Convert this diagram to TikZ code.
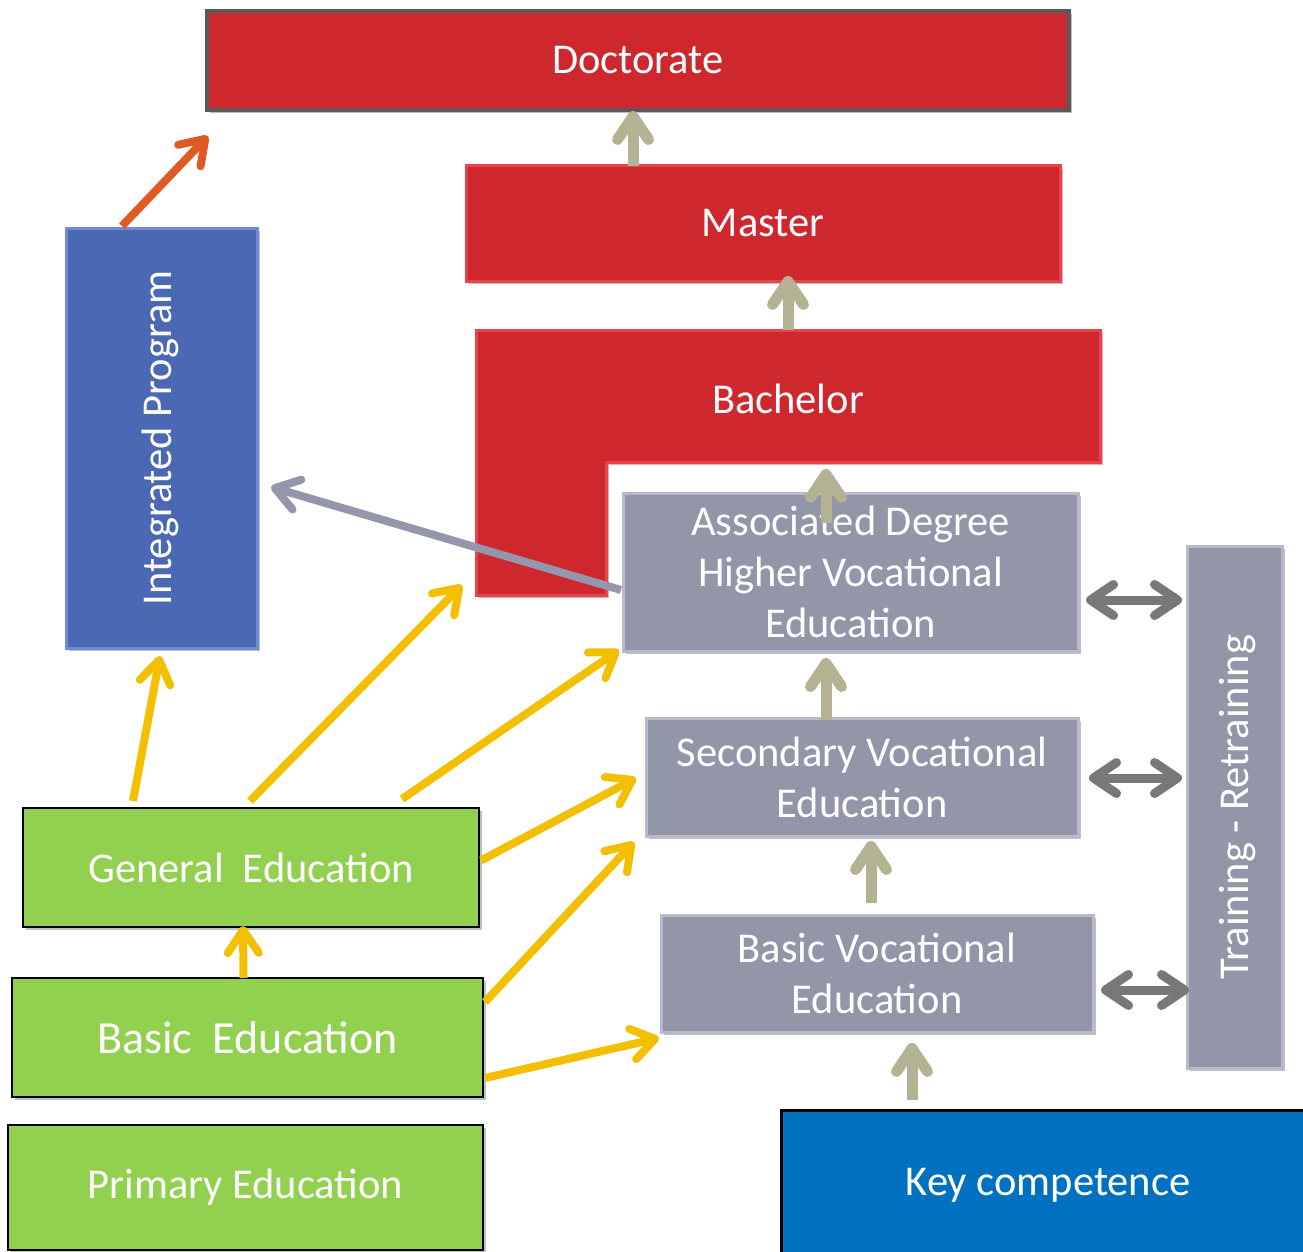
\documentclass[tikz,border=0pt]{standalone}
\usepackage{fontspec}
\setmainfont{Carlito}
\usetikzlibrary{arrows.meta,shadows}
\definecolor{redc}{HTML}{CF272E}
\definecolor{redlight}{HTML}{E8434A}
\definecolor{docborder}{HTML}{595959}
\definecolor{intblue}{HTML}{4A68B3}
\definecolor{intlight}{HTML}{6F8BD6}
\definecolor{grayc}{HTML}{9395A8}
\definecolor{graylight}{HTML}{B8BACB}
\definecolor{greenc}{HTML}{92D050}
\definecolor{keyblue}{HTML}{0070C0}
\definecolor{tanc}{HTML}{B3B394}
\definecolor{dgray}{HTML}{787878}
\definecolor{orangec}{HTML}{E05B24}
\definecolor{yellowc}{HTML}{F2C000}
\definecolor{bluegray}{HTML}{9497AB}
\tikzset{
  lab/.style={text=white, align=center, font=\fontsize{42.5}{51}\selectfont},
  box/.style={rectangle, inner sep=0pt, outer sep=0pt, lab,
    drop shadow={shadow xshift=3pt, shadow yshift=-3pt, opacity=0.25, fill=black}},
  redbox/.style={box, fill=redc, draw=redlight, line width=3pt},
  graybox/.style={box, fill=grayc, draw=graylight, line width=3pt},
  greenbox/.style={box, fill=greenc, draw=black, line width=2.2pt},
  headtip/.tip={Straight Barb[round,length=23pt,width=31pt]},
  tanarrow/.style={draw=tanc, line width=11pt, -headtip},
  yarrow/.style={draw=yellowc, line width=8pt, -headtip},
  dblarrow/.style={draw=dgray, line width=9pt, headtip-headtip},
  oarrow/.style={draw=orangec, line width=8pt, -headtip},
  bgarrow/.style={draw=bluegray, line width=8pt, -headtip},
}
\begin{document}
\begin{tikzpicture}[x=1pt,y=-1pt]
\useasboundingbox (0,0) rectangle (1303,1252);
% boxes
\node[redbox, draw=docborder, line width=4.5pt, minimum width=862pt, minimum height=99pt] (doc) at (638,60.5) {Doctorate};
\node[redbox, minimum width=594pt, minimum height=115pt] (master) at (763,223.5) {Master};
\fill[black, opacity=0.25] (479,333) -- (1103,333) -- (1103,465) -- (609,465) -- (609,598) -- (479,598) -- cycle;
\draw[fill=redc, draw=redlight, line width=3pt] (476,330) -- (1100,330) -- (1100,462) -- (606,462) -- (606,595) -- (476,595) -- cycle;
\node[lab] (bach) at (788,399) {Bachelor};
\coordinate (bachT) at (788,330);
\coordinate (bachIn) at (826,462);
\coordinate (bachBL) at (476,595);
\node[box, fill=intblue, draw=intlight, line width=3pt, minimum width=191pt, minimum height=420pt] (int) at (161.5,438) {};
\node[lab, rotate=90] (intlab) at ([xshift=-1pt]int.center) {Integrated Program};
\node[graybox, minimum width=455pt, minimum height=158pt] (assoc) at (850.5,572) {Associated Degree\\Higher Vocational\\Education};
\node[graybox, minimum width=432pt, minimum height=118pt] (sec) at (862,777) {Secondary Vocational\\Education};
\node[graybox, minimum width=432pt, minimum height=117pt] (bvoc) at (877,973.5) {Basic Vocational\\Education};
\node[graybox, minimum width=95pt, minimum height=522pt] (train) at (1234.5,807) {};
\node[lab, rotate=90] (trainlab) at ([xshift=3pt]train.center) {Training - Retraining};
\node[greenbox, minimum width=456pt, minimum height=119pt] (gen) at (251,867.5) {General\ \ Education};
\node[greenbox, minimum width=471pt, minimum height=119pt, font=\fontsize{46}{52}\selectfont] (based) at (247.5,1037.5) {Basic\ \ Education};
\node[greenbox, minimum width=475pt, minimum height=125pt] (prim) at (245.5,1187.5) {Primary Education};
\node[box, fill=keyblue, draw=black, line width=3pt, minimum width=525pt, minimum height=146pt] (key) at (1043.5,1183) {};
\node[lab] (keylab) at (1048,1185) {Key competence};
% arrows
\draw[oarrow] ([xshift=56pt,yshift=2pt]int.north west) -- ([xshift=1pt,yshift=-26pt]doc.south west);
\draw[bgarrow] ([xshift=-2pt,yshift=-18pt]assoc.west) -- ([xshift=14pt,yshift=-49pt]int.east);
\draw[tanarrow] ([xshift=-130pt]master.north) -- ([xshift=-5pt,yshift=-1pt]doc.south);
\draw[tanarrow] (bachT) -- ([xshift=25pt,yshift=5pt]master.south);
\draw[tanarrow] ([xshift=-24.5pt,yshift=-30pt]assoc.north) -- ([yshift=-7pt]bachIn);
\draw[tanarrow] ([xshift=-36pt,yshift=-2pt]sec.north) -- ([xshift=-24.5pt,yshift=-7pt]assoc.south);
\draw[tanarrow] ([xshift=-6pt,yshift=12pt]bvoc.north) -- ([xshift=9pt,yshift=-5pt]sec.south);
\draw[tanarrow] ([xshift=-131.5pt,yshift=10pt]key.north) -- ([xshift=35pt,yshift=-11pt]bvoc.south);
\draw[dblarrow] ([xshift=8pt,yshift=-28pt]assoc.east) -- ([xshift=-5pt,yshift=207pt]train.west);
\draw[dblarrow] ([xshift=11pt,yshift=-1pt]sec.east) -- ([xshift=-5pt,yshift=29pt]train.west);
\draw[dblarrow] ([xshift=8pt,yshift=-16.5pt]bvoc.east) -- ([xshift=2pt,yshift=-183pt]train.west);
\draw[yarrow] ([xshift=110pt,yshift=7pt]gen.north west) -- ([xshift=-1.5pt,yshift=-8pt]int.south);
\draw[yarrow] ([xshift=-1pt,yshift=7pt]gen.north) -- ([xshift=-14pt,yshift=10pt]bachBL);
\draw[yarrow] ([xshift=379pt,yshift=9pt]gen.north west) -- ([xshift=-4pt,yshift=1pt]assoc.south west);
\draw[yarrow] ([xshift=2pt,yshift=7pt]gen.east) -- ([xshift=-10pt,yshift=-1pt]sec.west);
\draw[yarrow] ([xshift=2pt,yshift=-24pt]based.north east) -- ([xshift=-12pt,yshift=-6pt]sec.south west);
\draw[yarrow] ([xshift=2pt,yshift=19pt]based.south east) -- ([xshift=-2pt,yshift=-6pt]bvoc.south west);
\draw[yarrow] ([xshift=-4pt]based.north) -- ([xshift=-8pt,yshift=1pt]gen.south);
\end{tikzpicture}
\end{document}
